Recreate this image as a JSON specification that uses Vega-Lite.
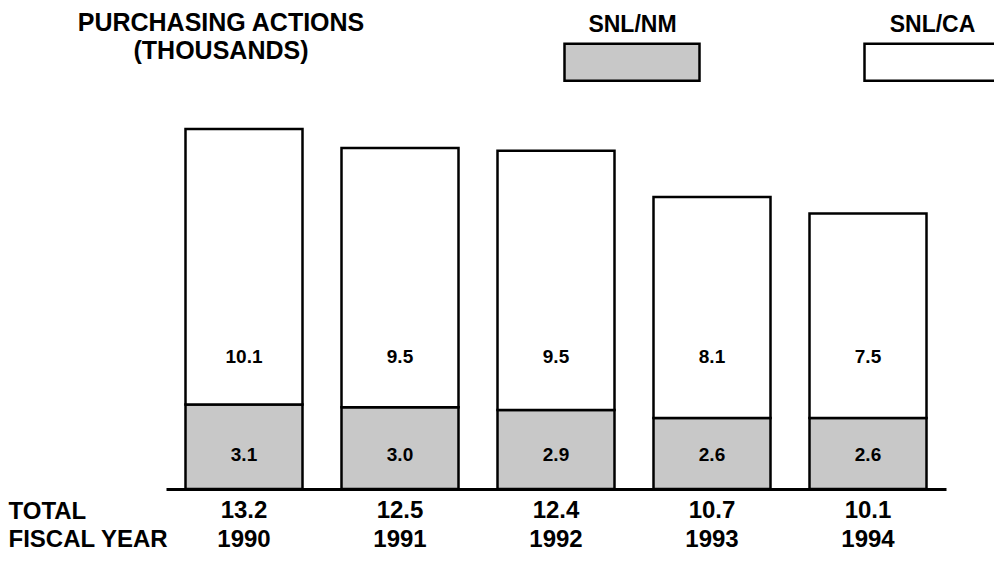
{
  "$schema": "https://vega.github.io/schema/vega-lite/v6.json",
  "width": 780,
  "height": 389,
  "autosize": {"type": "none"},
  "padding": {"left": 166, "right": 48, "top": 100, "bottom": 72},
  "background": "white",
  "config": {"view": {"stroke": null}, "font": "Liberation Sans"},
  "title": {
    "text": ["PURCHASING ACTIONS", "(THOUSANDS)"],
    "anchor": "start",
    "align": "center",
    "dx": 213,
    "offset": 0,
    "dy": 71,
    "fontSize": 25,
    "fontWeight": "bold",
    "color": "black",
    "lineHeight": 28,
    "font": "Liberation Sans"
  },
  "data": {
    "values": [
      {"year": "1990", "series": "SNL/NM", "value": 3.1},
      {"year": "1990", "series": "SNL/CA", "value": 10.1},
      {"year": "1991", "series": "SNL/NM", "value": 3.0},
      {"year": "1991", "series": "SNL/CA", "value": 9.5},
      {"year": "1992", "series": "SNL/NM", "value": 2.9},
      {"year": "1992", "series": "SNL/CA", "value": 9.5},
      {"year": "1993", "series": "SNL/NM", "value": 2.6},
      {"year": "1993", "series": "SNL/CA", "value": 8.1},
      {"year": "1994", "series": "SNL/NM", "value": 2.6},
      {"year": "1994", "series": "SNL/CA", "value": 7.5}
    ]
  },
  "layer": [
    {
      "mark": {"type": "bar", "stroke": "black", "strokeWidth": 2.5, "fillOpacity": 1},
      "encoding": {
        "x": {
          "field": "year",
          "type": "nominal",
          "scale": {"paddingInner": 0.25, "paddingOuter": 0.125},
          "axis": {
            "title": "FISCAL YEAR",
            "labelAngle": 0,
            "labelFont": "Liberation Sans",
            "labelFontSize": 24,
            "labelFontWeight": "bold",
            "labelColor": "black",
            "labelPadding": 50,
            "labelBaseline": "middle",
            "ticks": false,
            "tickSize": 0,
            "domainColor": "black",
            "domainWidth": 3,
            "titleX": -158,
            "titleY": 50,
            "titleAlign": "left",
            "titleBaseline": "middle",
            "titleAngle": 0,
            "titleFont": "Liberation Sans",
            "titleFontSize": 24,
            "titleFontWeight": "bold",
            "titleColor": "black"
          }
        },
        "y": {
          "field": "value",
          "type": "quantitative",
          "stack": "zero",
          "scale": {"domain": [0, 14.26], "nice": false},
          "axis": {
            "title": "TOTAL",
            "domain": false,
            "labels": false,
            "ticks": false,
            "grid": false,
            "titleAngle": 0,
            "titleX": -158,
            "titleY": 411,
            "titleAlign": "left",
            "titleBaseline": "middle",
            "titleFont": "Liberation Sans",
            "titleFontSize": 24,
            "titleFontWeight": "bold",
            "titleColor": "black"
          }
        },
        "color": {
          "field": "series",
          "type": "nominal",
          "scale": {"domain": ["SNL/NM", "SNL/CA"], "range": ["#c8c8c8", "#ffffff"]},
          "legend": {
            "title": null,
            "orient": "none",
            "legendX": 397,
            "legendY": -107,
            "direction": "horizontal",
            "padding": 0,
            "symbolType": "M-1,-0.274H1V0.274H-1Z",
            "symbolSize": 18225,
            "symbolStrokeColor": "black",
            "symbolStrokeWidth": 2.5,
            "symbolOpacity": 1,
            "labelFont": "Liberation Sans",
            "labelFontSize": 23,
            "labelFontWeight": "bold",
            "labelColor": "black",
            "labelAlign": "center",
            "labelOffset": -68.5,
            "columnPadding": 154,
            "encode": {"labels": {"update": {"dy": {"value": -37}}}}
          }
        },
        "order": {"field": "series", "sort": "descending"}
      }
    },
    {
      "transform": [{"filter": "datum.series === 'SNL/CA'"}],
      "mark": {"type": "text", "font": "Liberation Sans", "fontSize": 19, "fontWeight": "bold", "baseline": "middle", "color": "black"},
      "encoding": {
        "x": {"field": "year", "type": "nominal"},
        "y": {"datum": 4.84, "type": "quantitative"},
        "text": {"field": "value", "type": "quantitative", "format": ".1f"}
      }
    },
    {
      "transform": [{"filter": "datum.series === 'SNL/NM'"}],
      "mark": {"type": "text", "font": "Liberation Sans", "fontSize": 19, "fontWeight": "bold", "baseline": "middle", "color": "black"},
      "encoding": {
        "x": {"field": "year", "type": "nominal"},
        "y": {"datum": 1.25, "type": "quantitative"},
        "text": {"field": "value", "type": "quantitative", "format": ".1f"}
      }
    },
    {
      "transform": [{"aggregate": [{"op": "sum", "field": "value", "as": "total"}], "groupby": ["year"]}],
      "mark": {"type": "text", "font": "Liberation Sans", "fontSize": 24, "fontWeight": "bold", "baseline": "middle", "dy": 22, "color": "black"},
      "encoding": {
        "x": {"field": "year", "type": "nominal"},
        "y": {"datum": 0, "type": "quantitative"},
        "text": {"field": "total", "type": "quantitative", "format": ".1f"}
      }
    }
  ]
}
